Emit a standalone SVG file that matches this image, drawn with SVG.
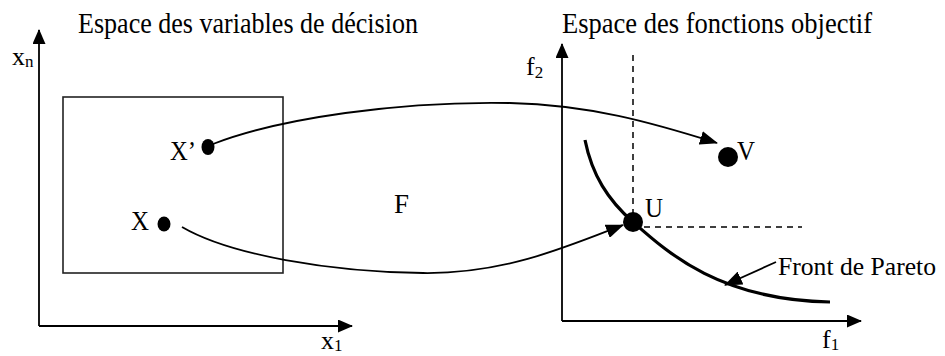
<svg xmlns="http://www.w3.org/2000/svg" width="945" height="356" viewBox="0 0 945 356">
<style>
.t{font-family:"Liberation Serif","Times New Roman",serif;fill:#000}
.ax{stroke:#000;stroke-width:1.8;fill:none}
.ln{stroke:#000;stroke-width:1.8;fill:none}
.ds{stroke:#000;stroke-width:1.5;fill:none;stroke-dasharray:6,5}
</style>
<defs>
<marker id="ah" markerUnits="userSpaceOnUse" markerWidth="18" markerHeight="14" viewBox="0 0 18 14" refX="17" refY="7" orient="auto">
<path d="M0,0 L18,7 L0,14 Z" fill="#000"/>
</marker>
<marker id="axh" markerUnits="userSpaceOnUse" markerWidth="15" markerHeight="13" viewBox="0 0 15 13" refX="14" refY="6.5" orient="auto">
<path d="M0,0 L15,6.5 L0,13 Z" fill="#000"/>
</marker>
</defs>
<rect width="945" height="356" fill="#fff"/>

<g id="titles">
<text class="t" x="78" y="33" font-size="30" textLength="340" lengthAdjust="spacingAndGlyphs">Espace des variables de décision</text>
<text class="t" x="562" y="33" font-size="30" textLength="310" lengthAdjust="spacingAndGlyphs">Espace des fonctions objectif</text>
</g>

<g id="decision-axes">
<path class="ax" d="M39,326 L39,30" marker-end="url(#axh)"/>
<path class="ax" d="M39,326 L352,326" marker-end="url(#axh)"/>
<text class="t" x="12" y="65" font-size="26">x<tspan font-size="17" dy="2">n</tspan></text>
<text class="t" x="321" y="349" font-size="26">x<tspan font-size="17" dy="2">1</tspan></text>
</g>

<g id="objective-axes">
<path class="ax" d="M562,321 L562,44" marker-end="url(#axh)"/>
<path class="ax" d="M562,321 L861,321" marker-end="url(#axh)"/>
<text class="t" x="526" y="75" font-size="26">f<tspan font-size="17" dy="3">2</tspan></text>
<text class="t" x="822" y="348" font-size="26">f<tspan font-size="17" dy="2">1</tspan></text>
</g>

<g id="decision-set">
<rect x="63" y="97" width="220" height="176" fill="none" stroke="#222" stroke-width="1.6"/>
</g>

<g id="node-Xp">
<ellipse cx="208" cy="147" rx="6.5" ry="8" fill="#000"/>
<text class="t" x="170" y="160" font-size="28" textLength="26" lengthAdjust="spacingAndGlyphs">X’</text>
</g>

<g id="node-X">
<ellipse cx="164" cy="224" rx="6.5" ry="7.5" fill="#000"/>
<text class="t" x="131" y="230" font-size="28" textLength="18" lengthAdjust="spacingAndGlyphs">X</text>
</g>

<g id="label-F">
<text class="t" x="394" y="213" font-size="28" textLength="15" lengthAdjust="spacingAndGlyphs">F</text>
</g>

<g id="dominance-lines">
<path class="ds" d="M633,55 L633,222"/>
<path class="ds" d="M633,227 L802,227"/>
</g>

<g id="pareto-front">
<path d="M585,140 C592,175 608,200 633,222 C668,253 720,300 830,302" fill="none" stroke="#000" stroke-width="3.2"/>
<text class="t" x="778" y="275" font-size="26" textLength="158" lengthAdjust="spacingAndGlyphs">Front de Pareto</text>
</g>

<g id="node-V">
<circle cx="728" cy="157" r="10" fill="#000"/>
<text class="t" x="737" y="160" font-size="28" textLength="18" lengthAdjust="spacingAndGlyphs">V</text>
</g>

<g id="node-U">
<circle cx="633" cy="222" r="10" fill="#000"/>
<text class="t" x="645" y="217" font-size="28" textLength="18" lengthAdjust="spacingAndGlyphs">U</text>
</g>

<g id="connectors">
<path class="ln" d="M213,144 C280,118 400,101 510,103 C590,105 650,122 717,143" marker-end="url(#ah)"/>
<path class="ln" d="M182,227 C230,255 330,272 423,273 C500,274 560,250 623,225" marker-end="url(#ah)"/>
<path class="ln" d="M776,262 L725,285" marker-end="url(#ah)"/>
</g>
</svg>
